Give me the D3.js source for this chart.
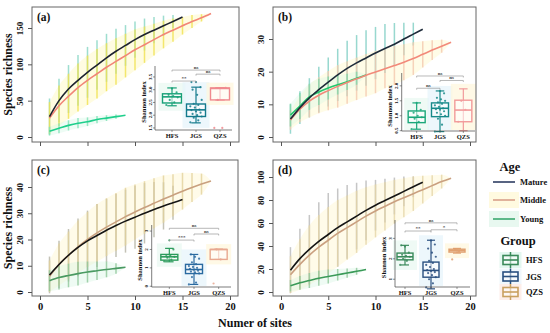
<!DOCTYPE html>
<html>
<head>
<meta charset="utf-8">
<script src="https://cdn.jsdelivr.net/npm/d3@7"></script>
<style>
body { margin: 0; background: #fff; }
svg text { font-family: "Liberation Serif", "Times New Roman", serif; font-weight: bold; fill: #111; }
</style>
</head>
<body>
<svg width="550" height="333"></svg>
<script>
// ---- rarefaction curves: mean species richness per number of sites ----
const matureA = [28, 50, 66, 78, 89, 99, 109, 118, 126, 134, 141, 147, 153, 159, 165];
const middleA = [26, 43, 56, 68, 78, 87, 96, 104, 112, 120, 127, 134, 141, 147, 153, 159, 164, 170];
const youngA  = [8, 12, 16, 19, 21, 24, 26, 28, 30];
const matureSdA = [25, 30, 33, 35, 35, 34, 33, 31, 28, 25, 22, 18, 14, 9, 0];
const middleSdA = [22, 28, 31, 33, 34, 34, 33, 32, 30, 28, 25, 22, 19, 16, 12, 9, 5, 0];
const youngSdA  = [6, 7, 7, 7, 6, 5, 4, 3, 0];

const matureB = [5.5, 9, 12, 14.5, 16.8, 19, 21, 22.7, 24.2, 25.7, 27.1, 28.4, 30, 31.5, 33];
const middleB = [5.2, 8.5, 11, 12.8, 14.2, 15.5, 16.7, 17.8, 18.9, 19.9, 20.9, 21.9, 22.9, 24, 25.3, 26.6, 27.8, 29];
const youngB  = [6.7, 9.5, 12.3, 13.8, 15, 16, 16.9, 18, 19];
const matureSdB = [4.5, 5, 6, 7, 7.5, 8, 8.5, 8.5, 8.5, 8, 7.5, 6.5, 5, 3.5, 0];
const middleSdB = [3, 4, 5, 5.5, 6, 6.5, 6.5, 6.5, 6.5, 6.5, 6, 6, 5.5, 5, 4, 3, 2, 0];
const youngSdB  = [3.5, 4, 4, 4, 3.5, 3, 2.5, 2, 0];

const matureC = [6.5, 10.5, 14, 17, 19.5, 21.5, 23.5, 25.3, 27, 28.5, 30, 31.4, 32.8, 34, 35.2];
const middleC = [6, 10.5, 14, 17.2, 20, 22.5, 24.7, 26.7, 28.7, 30.5, 32.2, 33.8, 35.4, 36.9, 38.4, 39.8, 41.1, 42.3];
const youngC  = [4.3, 5.5, 6.3, 7, 7.6, 8.1, 8.6, 9, 9.4];
const matureSdC = [7, 9, 10, 11, 11.5, 12, 12, 12, 12, 12, 11.5, 10.5, 9, 6.5, 0];
const middleSdC = [6, 8, 9, 10, 10.5, 11, 11, 11, 11, 10.5, 10, 9.5, 9, 8, 7, 5.5, 4, 0];
const youngSdC  = [4, 4.5, 4.5, 4.5, 4, 3.5, 3, 2, 0];

const matureD = [19, 29, 37, 44, 50, 56, 61, 66, 71, 75.5, 79.5, 83.5, 87.5, 91.5, 95.5];
const middleD = [15, 24, 32, 39, 45, 51, 56, 61, 66, 70.5, 74.5, 78.5, 82, 85.5, 89, 92.5, 96, 99];
const youngD  = [5.5, 8, 10, 12, 13.5, 15, 16.5, 18, 19.5];
const matureSdD = [20, 26, 30, 34, 36, 34, 32, 29, 26, 22, 19, 16, 13, 9, 0];
const middleSdD = [16, 22, 26, 28, 29, 29, 28, 27, 25, 23, 21, 19, 17, 15, 12, 9, 6, 0];
const youngSdD  = [5, 6, 6.5, 6.5, 6, 5, 4, 3, 0];

const ages = ["Mature", "Middle", "Young"];
const groups = ["HFS", "JGS", "QZS"];
const xTicks = [0, 5, 10, 15, 20];
const yTicksA = [0, 50, 100, 150];
const yTicksB = [0, 10, 20, 30];
const yTicksC = [0, 10, 20, 30, 40];
const yTicksD = [0, 20, 40, 60, 80, 100];

// ---- Shannon index boxplots: [min, q1, median, q3, max] ----
const hfsBoxA = [2.37, 2.48, 2.72, 2.84, 3.07];
const jgsBoxA = [1.70, 1.95, 2.21, 2.44, 3.10];
const qzsBoxA = [2.60, 2.60, 3.05, 3.07, 3.08];
const hfsPtsA = [2.4, 2.5, 2.6, 2.7, 2.75, 2.8, 2.9, 3.05];
const jgsPtsA = [1.72, 1.8, 1.9, 1.95, 2.0, 2.05, 2.1, 2.15, 2.2, 2.22, 2.3, 2.35, 2.4, 2.45, 2.6, 2.8, 3.0, 3.1, 3.3, 3.3];
const qzsPtsA = [1.5, 1.5, 2.6, 3.07];

const hfsBoxB = [0.55, 0.77, 0.95, 1.16, 1.43];
const jgsBoxB = [0.47, 0.97, 1.25, 1.43, 1.83];
const qzsBoxB = [0.5, 0.8, 1.19, 1.52, 1.9];
const hfsPtsB = [0.55, 0.8, 0.9, 0.95, 1.0, 1.1, 1.2, 1.43];
const jgsPtsB = [0.47, 0.7, 0.9, 1.0, 1.05, 1.1, 1.15, 1.2, 1.22, 1.25, 1.3, 1.35, 1.4, 1.45, 1.5, 1.55, 1.6, 1.75, 1.83];
const qzsPtsB = [0.8, 1.2, 1.5];

const hfsBoxC = [1.33, 1.42, 1.6, 1.73, 2.06];
const jgsBoxC = [0.1, 0.69, 0.91, 1.19, 1.73];
const qzsBoxC = [1.46, 1.46, 2.0, 2.0, 2.02];
const hfsPtsC = [1.35, 1.45, 1.55, 1.6, 1.65, 1.7, 2.0, 2.5];
const jgsPtsC = [0.1, 0.2, 0.5, 0.7, 0.75, 0.8, 0.85, 0.9, 0.95, 1.0, 1.05, 1.1, 1.2, 1.3, 1.5, 1.6, 1.73];
const qzsPtsC = [0.15, 1.46, 2.0];

const hfsBoxD = [1.7, 1.95, 2.1, 2.28, 2.66];
const jgsBoxD = [0.53, 1.1, 1.43, 1.84, 2.91];
const qzsBoxD = [2.28, 2.33, 2.4, 2.47, 2.51];
const hfsPtsD = [1.7, 1.9, 2.0, 2.1, 2.15, 2.2, 2.3, 2.6, 2.66];
const jgsPtsD = [0.6, 0.8, 1.0, 1.1, 1.2, 1.3, 1.35, 1.4, 1.45, 1.5, 1.6, 1.7, 1.8, 1.9, 2.1, 2.3, 2.5, 2.7, 2.9];
const qzsPtsD = [1.97, 2.35, 2.45];

// significance labels for pairs HFS-JGS, JGS-QZS, HFS-QZS
const sigA = ["**", "ns", "ns"];
const sigB = ["ns", "ns", "ns"];
const sigC = ["***", "ns", "ns"];
const sigD = ["**", "*", "ns"];

// ---- layout and colours ----
const panels = [
  { id: "a", frame: [32, 7, 239, 142], xr: [40, 230], yd: [0, 150], yr: [137, 28], yTicks: yTicksA, xLabels: false, yTitle: true,
    means: [matureA, middleA, youngA], sds: [matureSdA, middleSdA, youngSdA],
    line: ["#1d2230", "#f28577", "#1fcf8c"], bar: ["#86d6c4", "#f1e34f", "#7fe3b6"], band: [null, "#fff6b0", "#d2f7e6"],
    box: [hfsBoxA, jgsBoxA, qzsBoxA], pts: [hfsPtsA, jgsPtsA, qzsPtsA], sig: sigA, gcol: ["#17a077", "#137a8c", "#f08a8e"],
    inset: { axisX: 155, range: [160, 232], top: 66, bottom: 130, yd: [1.42, 3.93], ticks: [1.5, 2, 2.5, 3, 3.5], fmt: ".1f", bw: 19, sigY: [3.34, 3.61, 3.77] } },
  { id: "b", frame: [273, 7, 476, 142], xr: [281, 470], yd: [0, 30], yr: [137, 39], yTicks: yTicksB, xLabels: false, yTitle: false,
    means: [matureB, middleB, youngB], sds: [matureSdB, middleSdB, youngSdB],
    line: ["#1e2b3a", "#f28a7a", "#22c76b"], bar: ["#7fcfc4", "#f5c9b0", "#80d8a8"], band: [null, "#fff6c0", "#d8f6e4"],
    box: [hfsBoxB, jgsBoxB, qzsBoxB], pts: [hfsPtsB, jgsPtsB, qzsPtsB], sig: sigB, gcol: ["#1aa77a", "#178a8a", "#f29a9a"],
    inset: { axisX: 401.7, range: [405, 475], top: 73, bottom: 131, yd: [0.49, 2.43], ticks: [0.5, 1, 1.5, 2], fmt: ".1f", bw: 17, sigY: [1.92, 2.18, 2.33] } },
  { id: "c", frame: [32, 160, 238, 296], xr: [40, 230], yd: [0, 40], yr: [292, 187], yTicks: yTicksC, xLabels: true, yTitle: true,
    means: [matureC, middleC, youngC], sds: [matureSdC, middleSdC, youngSdC],
    line: ["#151515", "#c9a07f", "#4a9a62"], bar: ["#b6b4a4", "#e3d29c", "#8fc79a"], band: [null, "#fff5c4", "#d6f4e2"],
    box: [hfsBoxC, jgsBoxC, qzsBoxC], pts: [hfsPtsC, jgsPtsC, qzsPtsC], sig: sigC, gcol: ["#2a9a5a", "#2a6aa0", "#e8a890"],
    inset: { axisX: 151.7, range: [157, 231], top: 225, bottom: 287, yd: [-0.04, 3.33], ticks: [0, 1, 2, 3], fmt: "d", bw: 17, sigY: [2.51, 2.84, 3.15] } },
  { id: "d", frame: [273, 160, 476, 296], xr: [281, 470], yd: [0, 100], yr: [292, 177], yTicks: yTicksD, xLabels: true, yTitle: false,
    means: [matureD, middleD, youngD], sds: [matureSdD, middleSdD, youngSdD],
    line: ["#151515", "#caa080", "#3a9a58"], bar: ["#b8b8b8", "#e6d6a8", "#8fc79a"], band: [null, "#fff5c4", "#d6f4e2"],
    box: [hfsBoxD, jgsBoxD, qzsBoxD], pts: [hfsPtsD, jgsPtsD, qzsPtsD], sig: sigD, gcol: ["#3a8a5a", "#2a5080", "#e0a070"],
    inset: { axisX: 395, range: [392, 470], top: 220, bottom: 287, yd: [0.62, 3.9], ticks: [1, 2, 3], fmt: "d", bw: 16, sigY: [3.36, 3.42, 3.76] } }
];
const groupBg = ["#e8f8f1", "#e6f4fb", "#fff6dc"];

const svg = d3.select("svg");
const defs = svg.append("defs");

panels.forEach(p => {
  const [fx0, fy0, fx1, fy1] = p.frame;
  const x = d3.scaleLinear().domain([0, 20]).range(p.xr);
  const y = d3.scaleLinear().domain(p.yd).range(p.yr);
  const g = svg.append("g");

  defs.append("clipPath").attr("id", "clip-" + p.id)
    .append("rect").attr("x", fx0).attr("y", fy0).attr("width", fx1 - fx0).attr("height", fy1 - fy0);
  const inner = g.append("g").attr("clip-path", "url(#clip-" + p.id + ")");

  const series = p.means.map((m, k) => m.map((v, i) => ({ n: i + 1, m: v, sd: p.sds[k][i] })));

  // pale ribbons
  series.forEach((s, k) => {
    if (!p.band[k]) return;
    inner.append("path").datum(s)
      .attr("d", d3.area().x(d => x(d.n)).y0(d => y(d.m - d.sd)).y1(d => y(d.m + d.sd)).curve(d3.curveMonotoneX))
      .attr("fill", p.band[k]).attr("opacity", 0.38);
  });

  // error bars
  series.forEach((s, k) => {
    inner.append("g").selectAll("line").data(s).enter().append("line")
      .attr("x1", d => x(d.n)).attr("x2", d => x(d.n))
      .attr("y1", d => y(d.m - d.sd)).attr("y2", d => y(d.m + d.sd))
      .attr("stroke", p.bar[k]).attr("stroke-width", 1.5).attr("opacity", 0.8);
  });

  // curves (Young first, Mature on top)
  [2, 1, 0].forEach(k => {
    inner.append("path").datum(series[k])
      .attr("d", d3.line().x(d => x(d.n)).y(d => y(d.m)).curve(d3.curveMonotoneX))
      .attr("fill", "none").attr("stroke", p.line[k]).attr("stroke-width", 1.6);
  });

  // inset boxplot
  const ins = p.inset;
  const gx = d3.scalePoint().domain(groups).range(ins.range).padding(0.5);
  const gy = d3.scaleLinear().domain(ins.yd).range([ins.bottom, ins.top]);
  const ig = inner.append("g");
  const bw = ins.bw;

  groups.forEach((grp, k) => {
    const b = p.box[k];
    const cx = gx(grp);
    const c = p.gcol[k];
    const bgTop = Math.max(ins.top + 8, gy(b[4]) - 5);
    const bgBot = Math.min(ins.bottom - 1, gy(b[0]) + 5);
    ig.append("rect").attr("x", cx - bw / 2 - 4).attr("width", bw + 8)
      .attr("y", bgTop).attr("height", bgBot - bgTop)
      .attr("fill", groupBg[k]).attr("opacity", 0.7);
    ig.append("line").attr("x1", cx).attr("x2", cx).attr("y1", gy(b[0])).attr("y2", gy(b[4]))
      .attr("stroke", c).attr("stroke-width", 1.2);
    [b[0], b[4]].forEach(v => ig.append("line").attr("x1", cx - bw / 4).attr("x2", cx + bw / 4)
      .attr("y1", gy(v)).attr("y2", gy(v)).attr("stroke", c).attr("stroke-width", 1.2));
    ig.append("rect").attr("x", cx - bw / 2).attr("width", bw)
      .attr("y", gy(b[3])).attr("height", Math.max(1, gy(b[1]) - gy(b[3])))
      .attr("fill", "#fff").attr("fill-opacity", 0.55).attr("stroke", c).attr("stroke-width", 1.4);
    ig.append("line").attr("x1", cx - bw / 2).attr("x2", cx + bw / 2)
      .attr("y1", gy(b[2])).attr("y2", gy(b[2])).attr("stroke", c).attr("stroke-width", 1.6);
    ig.append("g").selectAll("circle").data(p.pts[k]).enter().append("circle")
      .attr("cx", (d, i) => cx + (((i * 7) % 11) - 5) / 5 * bw * 0.3)
      .attr("cy", d => gy(d)).attr("r", 1.1).attr("fill", c).attr("opacity", 0.85);
    ig.append("line").attr("x1", cx).attr("x2", cx).attr("y1", ins.bottom).attr("y2", ins.bottom + 2)
      .attr("stroke", "#555").attr("stroke-width", 0.6);
    ig.append("text").attr("x", cx).attr("y", ins.bottom + 8).attr("text-anchor", "middle")
      .attr("font-size", 6.5).text(grp);
  });

  // significance brackets
  const pairs = [["HFS", "JGS"], ["JGS", "QZS"], ["HFS", "QZS"]];
  pairs.forEach((pr, k) => {
    const yy = gy(ins.sigY[k]);
    const xa = gx(pr[0]), xb = gx(pr[1]);
    ig.append("path").attr("d", `M${xa},${yy + 1.5}V${yy}H${xb}V${yy + 1.5}`)
      .attr("fill", "none").attr("stroke", "#999").attr("stroke-width", 0.7);
    ig.append("text").attr("x", (xa + xb) / 2).attr("y", yy - 1.2).attr("text-anchor", "middle")
      .attr("font-size", 5).style("fill", "#444").text(p.sig[k]);
  });

  // inset axes
  ig.append("path").attr("d", `M${ins.axisX},${ins.top}V${ins.bottom}H${ins.range[1]}`)
    .attr("fill", "none").attr("stroke", "#444").attr("stroke-width", 0.7);
  ins.ticks.forEach(t => {
    ig.append("line").attr("x1", ins.axisX - 2).attr("x2", ins.axisX).attr("y1", gy(t)).attr("y2", gy(t))
      .attr("stroke", "#444").attr("stroke-width", 0.6);
    ig.append("text").attr("transform", `translate(${ins.axisX - 3.5},${gy(t)}) rotate(-90)`)
      .attr("text-anchor", "middle").attr("font-size", 5).text(d3.format(ins.fmt)(t));
  });
  ig.append("text").attr("transform", `translate(${ins.axisX - 9.5},${(ins.top + ins.bottom) / 2 + 4}) rotate(-90)`)
    .attr("text-anchor", "middle").attr("font-size", 6.5).text("Shannon index");

  // frame
  g.append("rect").attr("x", fx0).attr("y", fy0).attr("width", fx1 - fx0).attr("height", fy1 - fy0)
    .attr("fill", "none").attr("stroke", "#666").attr("stroke-width", 1);

  // y axis
  const ya = g.append("g").attr("transform", `translate(${fx0},0)`)
    .call(d3.axisLeft(y).tickValues(p.yTicks).tickSize(4).tickSizeOuter(0));
  ya.select(".domain").remove();
  ya.selectAll("line").attr("stroke", "#555");
  ya.selectAll("text").attr("x", null).attr("dy", null)
    .attr("transform", "translate(-9,0) rotate(-90)").attr("text-anchor", "middle")
    .attr("font-size", 9).style("font-family", '"Liberation Serif", serif').style("font-weight", "bold");

  // x axis
  const xa = g.append("g").attr("transform", `translate(0,${fy1})`)
    .call(d3.axisBottom(x).tickValues(xTicks).tickSize(4).tickPadding(3).tickSizeOuter(0)
      .tickFormat(p.xLabels ? d3.format("d") : () => ""));
  xa.select(".domain").remove();
  xa.selectAll("line").attr("stroke", "#555");
  xa.selectAll("text").attr("font-size", 10.5)
    .style("font-family", '"Liberation Serif", serif').style("font-weight", "bold");

  // panel tag
  g.append("text").attr("x", fx0 + 5).attr("y", fy0 + 14).attr("font-size", 11.5).text("(" + p.id + ")");

  if (p.yTitle) {
    g.append("text").attr("transform", `translate(12,${(fy0 + fy1) / 2}) rotate(-90)`)
      .attr("text-anchor", "middle").attr("font-size", 12).text("Species richness");
  }
});

svg.append("text").attr("x", 255).attr("y", 327).attr("text-anchor", "middle")
  .attr("font-size", 12).text("Numer of sites");

// ---- legend ----
const leg = svg.append("g");
const ageCol = ["#2f3e63", "#d9a08a", "#3aa870"];
const ageBg = [null, "#fffae0", "#e8f8f0"];
leg.append("text").attr("x", 510).attr("y", 171).attr("text-anchor", "middle").attr("font-size", 12.5).text("Age");
ages.forEach((a, i) => {
  const yy = [182, 200, 219][i];
  if (ageBg[i]) leg.append("rect").attr("x", 489).attr("y", yy - 8).attr("width", 30).attr("height", 16).attr("fill", ageBg[i]);
  leg.append("line").attr("x1", 493).attr("x2", 515).attr("y1", yy).attr("y2", yy)
    .attr("stroke", ageCol[i]).attr("stroke-width", 1.6);
  leg.append("text").attr("x", 520).attr("y", yy + 3).attr("font-size", 8.5).text(a);
});
leg.append("text").attr("x", 518).attr("y", 245).attr("text-anchor", "middle").attr("font-size", 12.5).text("Group");
const grpCol = ["#3a8a5a", "#2a5080", "#c9a060"];
const grpBg = ["#e4f7f0", "#f0f7fc", "#fdeee9"];
groups.forEach((gname, i) => {
  const yy = [260, 276.5, 292][i];
  const cx = 510.5;
  leg.append("rect").attr("x", cx - 11).attr("y", yy - 8).attr("width", 22).attr("height", 16).attr("fill", grpBg[i]);
  leg.append("line").attr("x1", cx).attr("x2", cx).attr("y1", yy - 8).attr("y2", yy + 8)
    .attr("stroke", grpCol[i]).attr("stroke-width", 1.5);
  leg.append("rect").attr("x", cx - 7.5).attr("y", yy - 4.5).attr("width", 15).attr("height", 9)
    .attr("fill", "#fff").attr("fill-opacity", 0.5).attr("stroke", grpCol[i]).attr("stroke-width", 1.6);
  leg.append("line").attr("x1", cx - 7.5).attr("x2", cx + 7.5).attr("y1", yy).attr("y2", yy)
    .attr("stroke", grpCol[i]).attr("stroke-width", 1.6);
  leg.append("text").attr("x", 526).attr("y", yy + 3).attr("font-size", 8.5).text(gname);
});
</script>
</body>
</html>
